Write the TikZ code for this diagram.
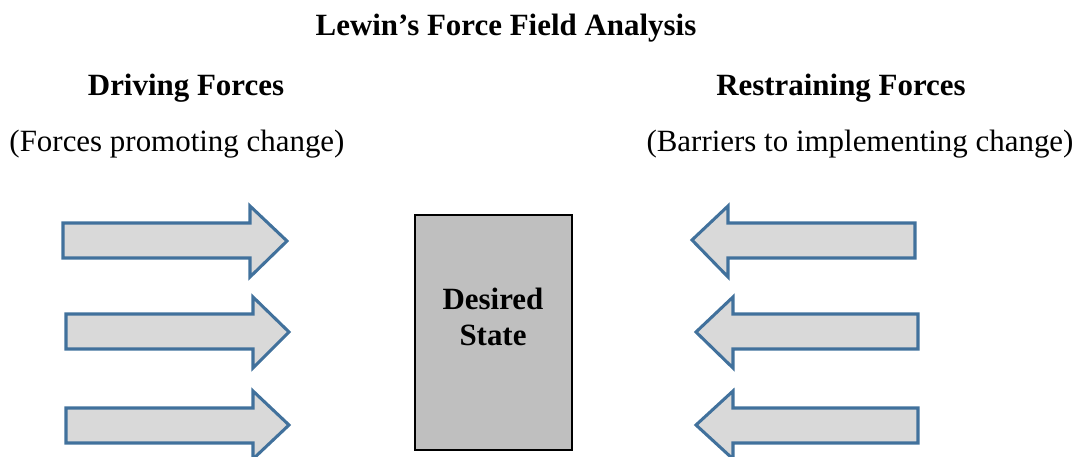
\documentclass[tikz,border=0pt]{standalone}
\usepackage{fontspec}
\setmainfont{Liberation Serif}
\definecolor{arrowfill}{HTML}{D9D9D9}
\definecolor{arrowline}{HTML}{41719C}
\definecolor{boxfill}{HTML}{BFBFBF}
\begin{document}
\begin{tikzpicture}[x=0.75pt,y=-0.75pt,
  force/.style={fill=arrowfill,draw=arrowline,line width=2.3pt,line join=miter},
  heading/.style={font=\fontsize{23.2}{27}\selectfont\bfseries,anchor=base,inner sep=0pt},
  sub/.style={font=\fontsize{23.2}{27}\selectfont,anchor=base,inner sep=0pt},
  statebox/.style={fill=boxfill,draw=black,line width=1.8pt}]
\useasboundingbox (0,0) rectangle (1079,457);
% title and headings
\node[heading] (title) at (506,35) {Lewin’s Force Field Analysis};
\node[heading] (drv) at (186,95) {Driving Forces};
\node[sub] (drvsub) at (177,151) {(Forces promoting change)};
\node[heading] (rst) at (841,95) {Restraining Forces};
\node[sub] (rstsub) at (860,151) {(Barriers to implementing change)};
% desired state box
\draw[statebox] (415,215) rectangle (572,450);
\node[heading] (state1) at (493,309) {Desired};
\node[heading] (state2) at (493,345) {State};
% driving arrows (pointing right)
\draw[force] (63,223) -- (250,223) -- (250,206) -- (287,241) -- (250,277) -- (250,258) -- (63,258) -- cycle;
\draw[force] (66,314) -- (253,314) -- (253,297) -- (289,332) -- (253,368) -- (253,349) -- (66,349) -- cycle;
\draw[force] (66,408) -- (253,408) -- (253,391) -- (289,425) -- (253,459) -- (253,443) -- (66,443) -- cycle;
% restraining arrows (pointing left)
\draw[force] (915,223) -- (728,223) -- (728,206) -- (692,240) -- (728,277) -- (728,258) -- (915,258) -- cycle;
\draw[force] (918,314) -- (733,314) -- (733,297) -- (696,332) -- (733,368) -- (733,349) -- (918,349) -- cycle;
\draw[force] (918,408) -- (733,408) -- (733,391) -- (696,425) -- (733,459) -- (733,443) -- (918,443) -- cycle;
\end{tikzpicture}
\end{document}
